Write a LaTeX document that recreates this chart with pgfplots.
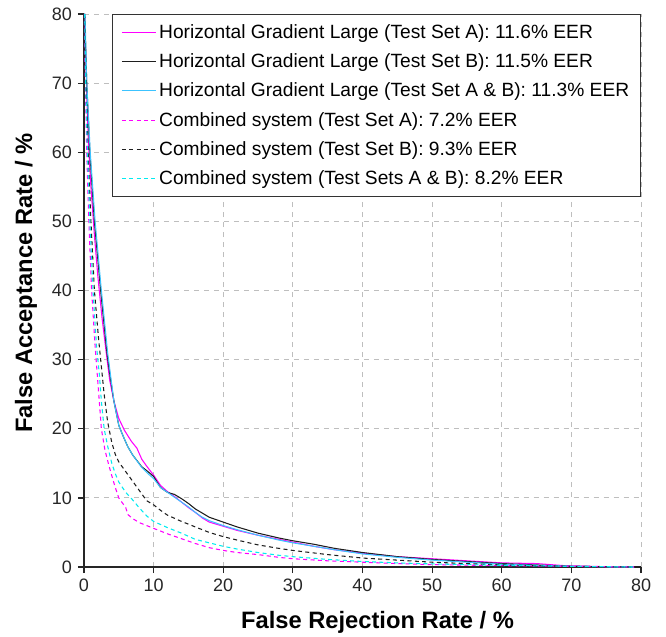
\documentclass[border=0pt]{standalone}
\usepackage{fontspec}
\setmainfont{Liberation Sans}
\usepackage{pgfplots}
\pgfplotsset{compat=1.18}

\definecolor{hgA}{RGB}{255,0,255}
\definecolor{hgB}{RGB}{30,30,30}
\definecolor{hgAB}{RGB}{60,195,255}
\definecolor{csA}{RGB}{255,0,255}
\definecolor{csB}{RGB}{30,30,30}
\definecolor{csAB}{RGB}{0,235,240}
\definecolor{gridgray}{RGB}{190,190,190}

\begin{document}
\begin{tikzpicture}
\begin{axis}[
    name=ax,
    scale only axis,
    width=418pt, height=415pt,
    xmin=0, xmax=80, ymin=0, ymax=80,
    xtick={0,10,...,80}, ytick={0,10,...,80},
    axis x line=bottom, axis y line=left,
    axis line style={-, line width=0.9pt, black!85},
    tick align=outside,
    major tick length=4.5pt,
    tick style={line width=0.9pt, black!85},
    grid=major,
    major grid style={gridgray, line width=0.7pt, dash pattern=on 4pt off 3.5pt},
    /pgf/number format/assume math mode=true,
    ticklabel style={font=\fontsize{13.5}{16}\selectfont, text=black!85},
    xticklabel style={yshift=-1pt},
    yticklabel style={xshift=-1pt},
    xlabel={\textbf{False Rejection Rate / \%}},
    ylabel={\textbf{False Acceptance Rate / \%}},
    label style={font=\fontsize{17.8}{20}\selectfont},
    xlabel style={at={(axis description cs:0.527,-0.0995)}, anchor=center},
    ylabel style={at={(axis description cs:-0.104,0.513)}, anchor=center},
    legend cell align=left,
    legend style={at={(1,1)}, anchor=north east,
        font=\fontsize{14.4}{16}\selectfont,
        draw=black!80, line width=0.7pt, inner xsep=6.5pt, inner ysep=5.5pt,
        row sep=6pt},
    legend image code/.code={
        \draw[line width=0.8pt, #1] (0cm,0cm) -- (0.9cm,0cm);
    },
]
\addplot[hgA, line width=0.8pt] coordinates {
(0.1,80) (0.3,72) (0.6,62) (1.0,55) (1.5,48) (2.0,42) (2.6,36) (3.2,31) (3.7,27)
(4.3,24) (5.0,21.5) (5.8,19.8) (6.8,18.2) (7.6,17.2) (8.3,15.6) (9.0,14.6)
(10,13.3) (11,11.8) (12,10.9) (13,10.2) (14,9.4) (15,8.6) (16,7.9) (17,7.1)
(18,6.5) (20,5.9) (22,5.3) (25,4.6) (28,4.0) (30,3.6) (33,3.0) (36,2.5) (40,2.0)
(45,1.5) (50,1.2) (55,0.9) (60,0.6) (65,0.5) (69,0.2) (75,0.05) (79,0)
};
\addlegendentry{Horizontal Gradient Large (Test Set A): 11.6\% EER}
\addplot[hgB, line width=0.8pt] coordinates {
(0.1,80) (0.4,70) (0.85,60) (1.5,50) (2.4,40) (3.3,31) (3.7,28) (4.3,24) (5.0,20.5)
(5.6,19) (6.3,17.4) (7,16.2) (8.3,14.5) (9.2,13.8) (10,13.1) (10.5,12.3) (11,11.5)
(12,10.8) (13,10.5) (14,9.9) (15,9.2) (16,8.4) (17,7.8) (18,7.2) (20,6.5) (22,5.8)
(25,4.9) (28,4.2) (30,3.8) (33,3.3) (36,2.7) (40,2.1) (45,1.5) (50,1.1) (55,0.8)
(60,0.5) (65,0.3) (70,0.1) (75,0.05) (80,0)
};
\addlegendentry{Horizontal Gradient Large (Test Set B): 11.5\% EER}
\addplot[hgAB, line width=0.8pt] coordinates {
(0.15,80) (0.4,70) (0.9,60) (1.6,50) (2.5,40) (3.4,31) (4.3,24) (5,20.5) (5.6,19)
(6.3,17.4) (7,16.2) (8.3,14.4) (9.2,13.5) (10,12.8) (11,11.5) (12,10.8) (13,10.1)
(14,9.4) (15,8.7) (16,7.9) (17,7.2) (18,6.7) (20,6.0) (22,5.4) (25,4.6) (28,3.9)
(30,3.5) (33,3.0) (36,2.5) (40,1.9) (45,1.4) (50,1.0) (55,0.7) (60,0.4) (65,0.25)
(70,0.1) (75,0.05) (79,0)
};
\addlegendentry{Horizontal Gradient Large (Test Set A \& B): 11.3\% EER}
\addplot[csA, line width=0.8pt, dash pattern=on 3pt off 2.5pt] coordinates {
(0.05,80) (0.2,70) (0.4,60) (0.7,50) (1.1,40) (1.6,32) (1.9,28) (2.2,24) (2.5,20)
(3,17) (3.5,15) (4,13.2) (4.5,11.5) (5,10) (5.5,9.3) (6,8.6) (6.3,7.6) (7,7)
(8,6.4) (9,6.0) (10,5.6) (12,4.8) (14,4.1) (16,3.4) (18,2.8) (20,2.4) (22,2.1)
(25,1.8) (28,1.4) (30,1.2) (35,0.9) (40,0.7) (45,0.5) (50,0.35) (60,0.2) (70,0.1)
(79,0)
};
\addlegendentry{Combined system (Test Set A): 7.2\% EER}
\addplot[csB, line width=0.8pt, dash pattern=on 3pt off 2.5pt] coordinates {
(0.1,80) (0.3,70) (0.6,60) (1.0,50) (1.5,40) (2.1,33) (2.5,29) (2.9,25) (3.4,21)
(4,18) (4.5,16.3) (5,15.2) (6,13.8) (7,12.4) (8,11) (9,9.6) (10,9) (11,8.2)
(12,7.5) (14,6.6) (16,5.8) (18,5) (20,4.4) (22,3.9) (25,3.2) (28,2.7) (30,2.4)
(35,1.8) (40,1.3) (45,1.0) (50,0.7) (55,0.5) (60,0.3) (70,0.1) (79,0)
};
\addlegendentry{Combined system (Test Set B): 9.3\% EER}
\addplot[csAB, line width=0.8pt, dash pattern=on 3pt off 2.5pt] coordinates {
(0.1,80) (0.25,70) (0.5,60) (0.85,50) (1.3,40) (1.8,32) (2.2,28) (2.5,24) (2.9,20)
(3.4,17.5) (4,15) (4.5,13.5) (5,12.3) (6,10.8) (7,9.7) (8,8.5) (9,7.4) (10,6.6)
(12,5.7) (14,4.9) (16,4.0) (18,3.5) (20,3.0) (22,2.6) (25,2.1) (28,1.7) (30,1.5)
(35,1.1) (40,0.8) (45,0.6) (50,0.45) (60,0.25) (70,0.1) (79,0)
};
\addlegendentry{Combined system (Test Sets A \& B): 8.2\% EER}
\end{axis}
\pgfresetboundingbox
\path ([xshift=-63pt, yshift=-52.5pt]ax.south west)
    rectangle ([xshift=18.75pt, yshift=10.5pt]ax.north east);
\end{tikzpicture}
\end{document}
